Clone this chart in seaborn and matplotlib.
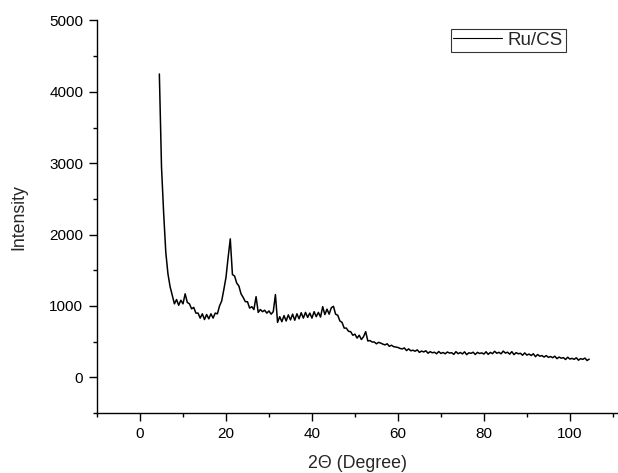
import numpy as np
import pandas as pd
import matplotlib
matplotlib.use("Agg")
import matplotlib.pyplot as plt
import seaborn as sns
from matplotlib.ticker import MultipleLocator

# 2-theta scan grid (degrees), 0.5 degree step
two_theta = np.arange(4.5, 104.51, 0.5)

# Intensity
intensity = [
    4250, 2950, 2300, 1750, 1450, 1270, 1150, 1030, 1090, 1010,
    1080, 1030, 1170, 1050, 1030, 960, 980, 900, 900, 830,
    890, 810, 880, 820, 890, 830, 900, 890, 1000, 1070,
    1230, 1400, 1680, 1940, 1440, 1420, 1320, 1280, 1170, 1120,
    1060, 1060, 970, 990, 950, 1130, 910, 950, 920, 940,
    900, 930, 885, 920, 1160, 770, 850, 780, 865, 790,
    875, 805, 885, 800, 890, 820, 905, 830, 910, 840,
    900, 830, 920, 850, 910, 845, 990, 880, 955, 885,
    975, 995, 885, 870, 790, 770, 690, 690, 645, 640,
    590, 605, 550, 590, 530, 570, 640, 510, 515, 495,
    495, 470, 490, 480, 465, 455, 470, 435, 450, 430,
    425, 418, 405, 398, 412, 375, 398, 372, 380, 366,
    385, 350, 368, 356, 372, 338, 360, 344, 352, 330,
    362, 335, 348, 330, 355, 340, 345, 322, 360, 331,
    348, 328, 357, 318, 344, 336, 352, 320, 350, 334,
    343, 326, 358, 322, 349, 332, 365, 338, 350, 330,
    368, 340, 352, 325, 360, 318, 346, 330, 337, 310,
    342, 312, 326, 306, 330, 290, 320, 296, 305, 284,
    305, 280, 292, 275, 296, 262, 284, 268, 276, 250,
    282, 256, 266, 252, 274, 240, 262, 252, 270, 236,
    255,
]

series_label = "Ru/CS"
x_ticks = [0, 20, 40, 60, 80, 100]
y_ticks = [0, 1000, 2000, 3000, 4000, 5000]

df = pd.DataFrame({"two_theta": two_theta, "intensity": intensity})

sns.set_style("ticks")
plt.rcParams["font.family"] = ["Liberation Sans", "DejaVu Sans"]

fig = plt.figure(figsize=(6.18, 4.73), dpi=100)
ax = fig.add_axes([0.157, 0.1268, 0.843, 0.8299])

sns.lineplot(data=df, x="two_theta", y="intensity", color="black",
             linewidth=1.1, label=series_label, ax=ax)

ax.set_xlim(-10, 111.2)
ax.set_ylim(-500, 5000)
ax.set_xticks(x_ticks)
ax.set_yticks(y_ticks)
ax.xaxis.set_minor_locator(MultipleLocator(10))
ax.yaxis.set_minor_locator(MultipleLocator(500))

for side in ["top", "right"]:
    ax.spines[side].set_visible(False)
for side in ["left", "bottom"]:
    ax.spines[side].set_linewidth(1.0)
    ax.spines[side].set_color("black")

ax.tick_params(which="major", direction="out", length=6, width=1.0,
               colors="black", labelsize=11, pad=4)
ax.tick_params(which="minor", direction="out", length=3.2, width=1.0,
               colors="black")

ax.set_xlabel("2\u0398 (Degree)", fontsize=12.8, labelpad=10)
ax.set_ylabel("Intensity", fontsize=12.8, labelpad=16)

leg = ax.legend(loc="upper right", bbox_to_anchor=(0.9, 0.978),
                borderaxespad=0, frameon=True, fancybox=False,
                fontsize=13.5, handlelength=2.6, handletextpad=0.3,
                borderpad=0.15)
leg.get_frame().set_edgecolor("black")
leg.get_frame().set_linewidth(0.8)
for line in leg.get_lines():
    line.set_linewidth(0.8)

fig.savefig("out.png", dpi=100)
